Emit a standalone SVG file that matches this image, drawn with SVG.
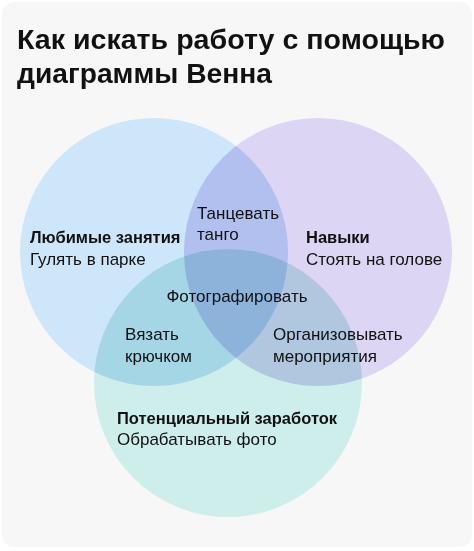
<svg xmlns="http://www.w3.org/2000/svg" width="474" height="551" viewBox="0 0 474 551">
<style>
.t{font-family:"Liberation Sans",Arial,sans-serif;fill:#111;font-size:17px}
.b{font-weight:bold;font-size:16.5px}
.h{font-family:"Liberation Sans",Arial,sans-serif;fill:#111;font-size:27px;font-weight:bold}
.c{mix-blend-mode:multiply}
</style>
<rect x="0" y="0" width="474" height="551" fill="#ffffff"/>
<rect x="2" y="2" width="470" height="545" rx="12" fill="#f7f7f7"/>
<g id="title">
<text class="h" x="17" y="49" textLength="428" lengthAdjust="spacingAndGlyphs">Как искать работу с помощью</text>
<text class="h" x="17" y="83" textLength="255" lengthAdjust="spacingAndGlyphs">диаграммы Венна</text>
</g>
<g id="circles" style="isolation:isolate">
<circle id="hobbies" class="c" cx="154" cy="252" r="134" fill="#cde6fa"/>
<circle id="skills" class="c" cx="318" cy="252" r="134" fill="#dcd5f3"/>
<circle id="earnings" class="c" cx="228" cy="383" r="134" fill="#cdeeea"/>
</g>
<g id="n-hobbies">
<text class="t b" x="30" y="243">Любимые занятия</text>
<text class="t" x="30" y="265">Гулять в парке</text>
</g>
<g id="n-skills">
<text class="t b" x="306" y="243">Навыки</text>
<text class="t" x="306" y="265">Стоять на голове</text>
</g>
<g id="n-tango">
<text class="t" x="197" y="219">Танцевать</text>
<text class="t" x="197" y="240">танго</text>
</g>
<g id="n-photo">
<text class="t" x="237" y="302" text-anchor="middle">Фотографировать</text>
</g>
<g id="n-knit">
<text class="t" x="125" y="340">Вязать</text>
<text class="t" x="125" y="362">крючком</text>
</g>
<g id="n-events">
<text class="t" x="273" y="340">Организовывать</text>
<text class="t" x="273" y="362">мероприятия</text>
</g>
<g id="n-earnings">
<text class="t b" x="117" y="424">Потенциальный заработок</text>
<text class="t" x="117" y="445">Обрабатывать фото</text>
</g>
<g id="connectors"></g>
</svg>
